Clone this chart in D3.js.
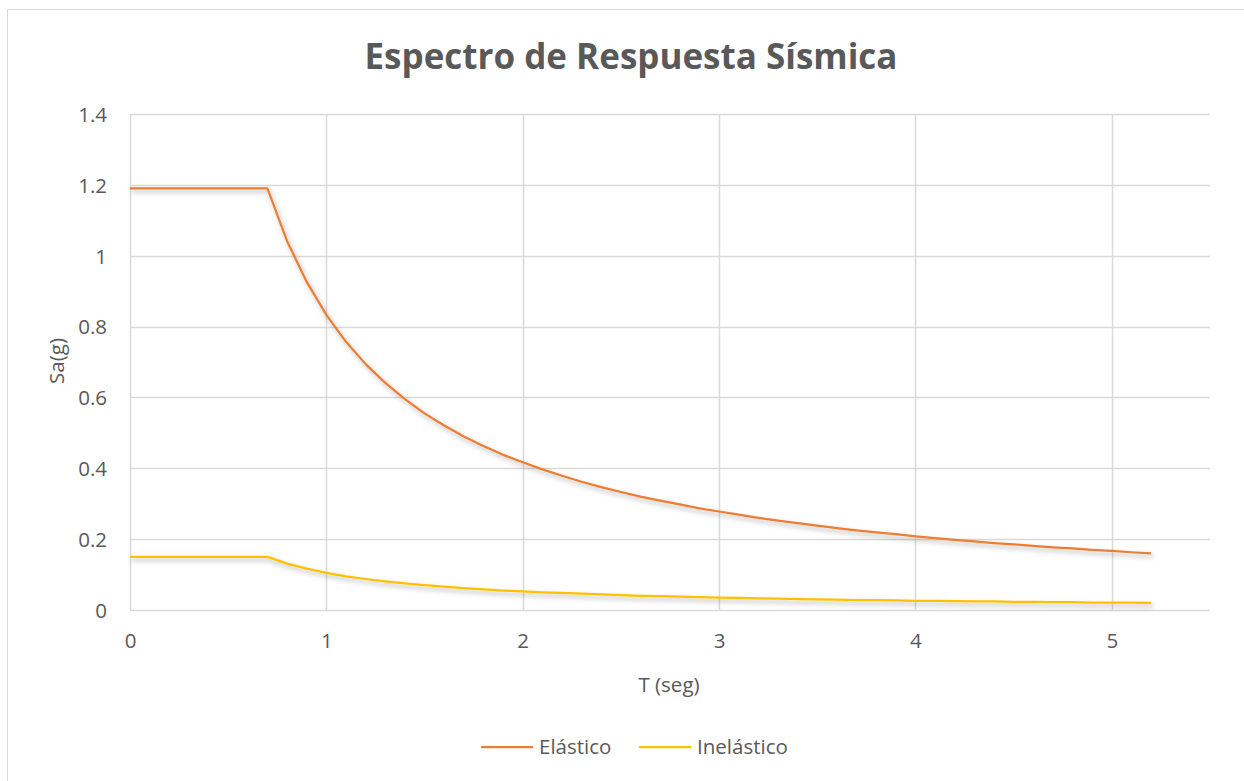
<!DOCTYPE html>
<html>
<head>
<meta charset="utf-8">
<script src="https://cdn.jsdelivr.net/npm/d3@7"></script>
<style>
  html, body { margin: 0; padding: 0; background: #fff; }
  svg { display: block; font-family: "Open Sans", Lato, sans-serif; }
</style>
</head>
<body>
<svg id="chart" width="1244" height="781"></svg>
<script>
// Periods T (s)
const periods = [0, 0.1, 0.2, 0.3, 0.4, 0.5, 0.6, 0.7, 0.8, 0.9, 1.0, 1.1, 1.2, 1.3, 1.4, 1.5, 1.6, 1.7, 1.8, 1.9,
  2.0, 2.1, 2.2, 2.3, 2.4, 2.5, 2.6, 2.7, 2.8, 2.9, 3.0, 3.1, 3.2, 3.3, 3.4, 3.5, 3.6, 3.7, 3.8, 3.9,
  4.0, 4.1, 4.2, 4.3, 4.4, 4.5, 4.6, 4.7, 4.8, 4.9, 5.0, 5.1, 5.2];

// Spectral acceleration Sa(g), elastic spectrum
const elastico = [1.19, 1.19, 1.19, 1.19, 1.19, 1.19, 1.19, 1.19, 1.041, 0.926, 0.833, 0.757, 0.694, 0.641, 0.595, 0.555, 0.521, 0.490, 0.463, 0.438,
  0.417, 0.397, 0.379, 0.362, 0.347, 0.333, 0.320, 0.309, 0.298, 0.287, 0.278, 0.269, 0.260, 0.252, 0.245, 0.238, 0.231, 0.225, 0.219, 0.214,
  0.208, 0.203, 0.198, 0.194, 0.189, 0.185, 0.181, 0.177, 0.174, 0.170, 0.167, 0.163, 0.160];

// Spectral acceleration Sa(g), inelastic (reduced) spectrum
const inelastico = [0.15, 0.15, 0.15, 0.15, 0.15, 0.15, 0.15, 0.15, 0.131, 0.117, 0.105, 0.095, 0.0875, 0.081, 0.075, 0.070, 0.066, 0.062, 0.058, 0.055,
  0.0525, 0.050, 0.048, 0.046, 0.044, 0.042, 0.040, 0.039, 0.0375, 0.036, 0.035, 0.034, 0.033, 0.032, 0.031, 0.030, 0.029, 0.028, 0.028, 0.027,
  0.026, 0.026, 0.025, 0.024, 0.024, 0.023, 0.023, 0.022, 0.022, 0.021, 0.021, 0.021, 0.020];

const xTicks = [0, 1, 2, 3, 4, 5];
const yTicks = [0, 0.2, 0.4, 0.6, 0.8, 1, 1.2, 1.4];

const seriesNames = ["Elástico", "Inelástico"];
const seriesColors = ["#ED7D31", "#FFC000"];

const svg = d3.select("#chart");
const W = 1244, H = 781;
const plot = { left: 130, right: 1210, top: 114, bottom: 610 };
const textColor = "#595959";
const gridColor = "#D9D9D9";
const fontFamily = "'Open Sans', Lato, sans-serif";
const labelSize = 20.5;

// outer chart frame
svg.append("rect")
  .attr("x", 7.5).attr("y", 9.5)
  .attr("width", W + 10).attr("height", H + 10)
  .attr("fill", "#fff").attr("stroke", gridColor).attr("stroke-width", 1);

const defs = svg.append("defs");
const f = defs.append("filter").attr("id", "lineShadow")
  .attr("x", "-5%").attr("y", "-20%").attr("width", "110%").attr("height", "140%");
f.append("feDropShadow")
  .attr("dx", 2).attr("dy", 3).attr("stdDeviation", 2.5)
  .attr("flood-color", "#000").attr("flood-opacity", 0.3);

const x = d3.scaleLinear().domain([0, 5.5]).range([plot.left, plot.right]);
const y = d3.scaleLinear().domain([0, 1.4]).range([plot.bottom, plot.top]);

// gridlines
const grid = svg.append("g");
grid.selectAll("line.h").data(yTicks).join("line")
  .attr("x1", plot.left).attr("x2", plot.right)
  .attr("y1", d => Math.round(y(d)) + 0.5).attr("y2", d => Math.round(y(d)) + 0.5)
  .attr("stroke", gridColor).attr("stroke-width", 1.5);
grid.selectAll("line.v").data(xTicks).join("line")
  .attr("y1", plot.top).attr("y2", plot.bottom)
  .attr("x1", d => Math.round(x(d)) + 0.5).attr("x2", d => Math.round(x(d)) + 0.5)
  .attr("stroke", gridColor).attr("stroke-width", 1.5);

// axes (labels only)
const yAxis = svg.append("g")
  .attr("transform", `translate(${plot.left - 23},0)`)
  .call(d3.axisLeft(y).tickValues(yTicks).tickSize(0).tickPadding(0)
    .tickFormat(d => String(+d.toFixed(1))));
yAxis.select(".domain").remove();
yAxis.selectAll("text").attr("fill", textColor).attr("font-size", labelSize)
  .attr("font-family", fontFamily).attr("dy", "0.36em");

const xAxis = svg.append("g")
  .attr("transform", `translate(0,648)`)
  .call(d3.axisBottom(x).tickValues(xTicks).tickSize(0).tickPadding(0)
    .tickFormat(d3.format("d")));
xAxis.select(".domain").remove();
xAxis.selectAll("text").attr("fill", textColor).attr("font-size", labelSize)
  .attr("font-family", fontFamily).attr("y", 0).attr("dy", 0);

// series lines
const line = d3.line().x(d => x(d[0])).y(d => y(d[1]));
[elastico, inelastico].forEach((vals, i) => {
  svg.append("path")
    .datum(periods.map((t, j) => [t, vals[j]]))
    .attr("d", line)
    .attr("fill", "none")
    .attr("stroke", seriesColors[i])
    .attr("stroke-width", 2.25)
    .attr("stroke-linejoin", "round")
    .attr("filter", "url(#lineShadow)");
});

// title
svg.append("text")
  .attr("x", 631).attr("y", 69)
  .attr("text-anchor", "middle")
  .attr("font-size", 35).attr("font-weight", "bold")
  .attr("fill", textColor)
  .text("Espectro de Respuesta Sísmica");

// axis titles
svg.append("text")
  .attr("x", 669).attr("y", 692)
  .attr("text-anchor", "middle")
  .attr("font-size", labelSize).attr("fill", textColor)
  .text("T (seg)");

svg.append("text")
  .attr("transform", `translate(64,361) rotate(-90)`)
  .attr("text-anchor", "middle")
  .attr("font-size", labelSize).attr("fill", textColor)
  .text("Sa(g)");

// legend
const legendX = [481, 639];
const legend = svg.append("g");
seriesNames.forEach((name, i) => {
  const g = legend.append("g").attr("transform", `translate(${legendX[i]},747)`);
  g.append("line").attr("x1", 0).attr("x2", 52).attr("y1", 0).attr("y2", 0)
    .attr("stroke", seriesColors[i]).attr("stroke-width", 2.25);
  g.append("text").attr("x", 58).attr("y", 0).attr("dy", "0.36em")
    .attr("font-size", labelSize).attr("fill", textColor).text(name);
});
</script>
</body>
</html>
